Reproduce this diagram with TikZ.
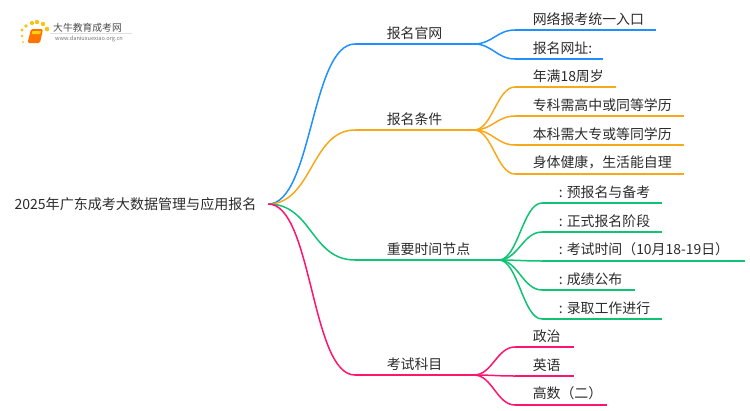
\documentclass[tikz,border=0pt]{standalone}
\usepackage{fontspec}
\setmainfont{Noto Sans CJK SC}
\usetikzlibrary{positioning}

\definecolor{lineblue}{HTML}{1E90FF}
\definecolor{lineorange}{HTML}{F7A81B}
\definecolor{linegreen}{HTML}{10C274}
\definecolor{linepink}{HTML}{FF1470}
\definecolor{textgray}{HTML}{2B2B2B}

\begin{document}
\begin{tikzpicture}[x=1pt,y=-1pt,node distance=29pt,
  line width=1.5pt,text=textgray,font=\fontsize{13.9}{16}\selectfont,
  root node/.style={font=\fontsize{14.05}{16}\selectfont,inner xsep=11pt,inner ysep=0pt,text height=13pt,text depth=3pt},
  branch node/.style={anchor=south west,inner xsep=0pt,inner ysep=4pt,
    execute at begin node=\hspace*{31pt},execute at end node=\hspace*{#1}},
  leaf node/.style={anchor=south west,inner xsep=0pt,inner ysep=4pt,
    execute at begin node=\hspace*{#1},execute at end node=\hspace*{11.5pt}},
  leaf node/.default=17pt,
  pad/.style={execute at end node=\hspace*{#1}},
  under/.style={below=of #1.south west,anchor=south west},
  bend out/.style={to path={.. controls ([xshift=#1]\tikztostart) and ([xshift=-#1]\tikztotarget) .. (\tikztotarget)}}]

  \useasboundingbox (0,0) rectangle (750,410);

  % logo
  \foreach \dotx/\doty/\dotr in {23/42/1.0,22/36/1.3,22/30/1.6,26/26/1.9,32/23/2.1,37/22/2.2,43/24/2.2,47/29/2.3}
    \fill[lineorange!70!yellow] (\dotx,\doty) circle (\dotr pt);
  \fill[orange!90!red,rounded corners=1.5pt] (31,29) -- (43,29) -- (40,43) -- (27.5,43) -- cycle;
  \fill[lineorange!50!yellow] (32.5,31) -- (41,31) -- (40.2,34) -- (31.7,34) -- cycle;
  \draw[black!12,line width=0.5pt] (50,33.5) -- (132,33.5);
  \node[font=\fontsize{9.8}{11}\selectfont,text=black!70,inner sep=0pt] (logotitle) at (87.5,27.5) {大牛教育成考网};
  \node[font=\fontsize{5.6}{7}\selectfont,text=black!55,inner sep=0pt] (logourl) at (89,39) {www.daniuxuexiao.org.cn};

  \node[root node] (root) at (135.5,204) {2025年广东成考大数据管理与应用报名};

  \node[branch node=31pt] (site) at (355,44) {报名官网};
  \node[leaf node] (site1) at (515,30) {网络报考统一入口};
  \node[leaf node,under=site1,pad=-1.5pt] (site2) {报名网址:};

  \node[branch node=31pt] (cond) at (355,130) {报名条件};
  \node[leaf node] (cond1) at (515,87) {年满18周岁};
  \node[leaf node,under=cond1] (cond2) {专科需高中或同等学历};
  \node[leaf node,under=cond2] (cond3) {本科需大专或等同学历};
  \node[leaf node,under=cond3] (cond4) {身体健康，生活能自理};

  \node[branch node=28pt] (time) at (355,260) {重要时间节点};
  \node[leaf node=16pt] (time1) at (542,203) {: 预报名与备考};
  \node[leaf node=16pt,under=time1] (time2) {: 正式报名阶段};
  \node[leaf node=16pt,under=time2,pad=4pt] (time3) {: 考试时间（10月18-19日）};
  \node[leaf node=16pt,under=time3] (time4) {: 成绩公布};
  \node[leaf node=16pt,under=time4] (time5) {: 录取工作进行};

  \node[branch node=31pt] (exam) at (355,375) {考试科目};
  \node[leaf node,pad=1.5pt] (exam1) at (515,347) {政治};
  \node[leaf node,under=exam1,pad=1.5pt] (exam2) {英语};
  \node[leaf node,under=exam2,pad=-8pt] (exam3) {高数（二）};

  \path[draw=lineblue]
    (root.east) edge[bend out=44pt] (site.south west)
    (site.south west) edge (site.south east)
    (site.south east) edge[bend out=18pt] (site1.south west)
    (site.south east) edge[bend out=18pt] (site2.south west)
    (site1.south west) edge (site1.south east)
    (site2.south west) edge (site2.south east);
  \path[draw=lineorange]
    (root.east) edge[bend out=44pt] (cond.south west)
    (cond.south west) edge (cond.south east)
    (cond.south east) edge[bend out=18pt] (cond1.south west)
    (cond.south east) edge[bend out=18pt] (cond2.south west)
    (cond.south east) edge[bend out=18pt] (cond3.south west)
    (cond.south east) edge[bend out=18pt] (cond4.south west)
    (cond1.south west) edge (cond1.south east)
    (cond2.south west) edge (cond2.south east)
    (cond3.south west) edge (cond3.south east)
    (cond4.south west) edge (cond4.south east);
  \path[draw=linegreen]
    (root.east) edge[bend out=44pt] (time.south west)
    (time.south west) edge (time.south east)
    (time.south east) edge[bend out=19pt] (time1.south west)
    (time.south east) edge[bend out=19pt] (time2.south west)
    (time.south east) edge[bend out=19pt] (time3.south west)
    (time.south east) edge[bend out=19pt] (time4.south west)
    (time.south east) edge[bend out=19pt] (time5.south west)
    (time1.south west) edge (time1.south east)
    (time2.south west) edge (time2.south east)
    (time3.south west) edge (time3.south east)
    (time4.south west) edge (time4.south east)
    (time5.south west) edge (time5.south east);
  \path[draw=linepink]
    (root.east) edge[bend out=44pt] (exam.south west)
    (exam.south west) edge (exam.south east)
    (exam.south east) edge[bend out=18pt] (exam1.south west)
    (exam.south east) edge[bend out=18pt] (exam2.south west)
    (exam.south east) edge[bend out=18pt] (exam3.south west)
    (exam1.south west) edge (exam1.south east)
    (exam2.south west) edge (exam2.south east)
    (exam3.south west) edge (exam3.south east);
\end{tikzpicture}
\end{document}
